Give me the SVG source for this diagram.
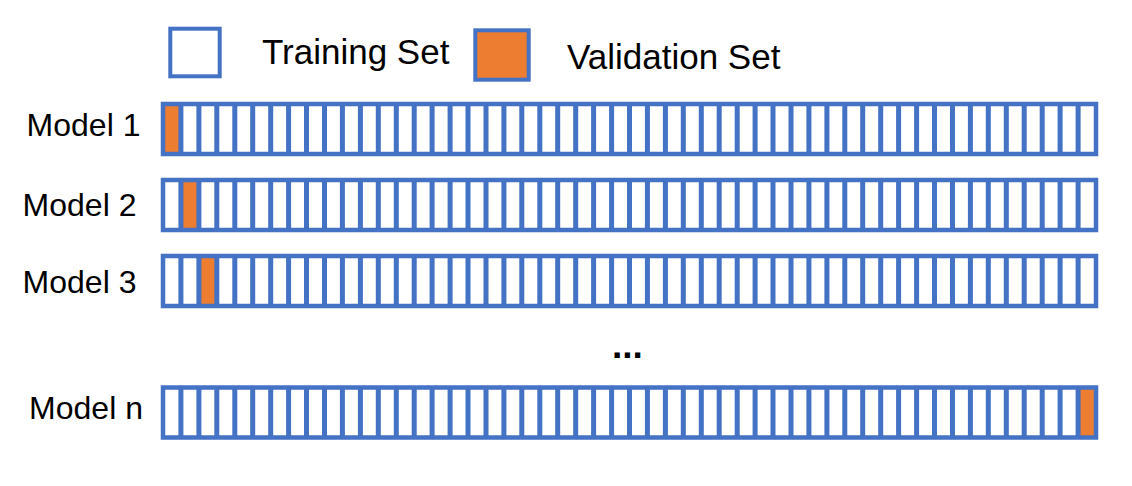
<svg xmlns="http://www.w3.org/2000/svg" xmlns:xlink="http://www.w3.org/1999/xlink" width="1132" height="486" viewBox="0 0 1132 486">
  <style>
    .lbl { font-family: "Liberation Sans", Arial, sans-serif; fill: #000000; }
    .legend { font-size: 35px; }
    .model { font-size: 32px; text-anchor: middle; }
    .frame { fill: none; stroke: #4472C4; stroke-width: 4.5; }
    .div { fill: none; stroke: #4472C4; stroke-width: 5; }
    .val { fill: #ED7D31; }
    .boxT { fill: #FFFFFF; stroke: #4472C4; stroke-width: 4; }
    .boxV { fill: #ED7D31; stroke: #4472C4; stroke-width: 4; }
  </style>
  <defs>
    <g id="bar">
      <path class="div" d="M180.9 0V50M198.9 0V50M216.8 0V50M234.8 0V50M252.7 0V50M270.7 0V50M288.6 0V50M306.5 0V50M324.5 0V50M342.4 0V50M360.4 0V50M378.3 0V50M396.3 0V50M414.2 0V50M432.1 0V50M450.1 0V50M468 0V50M486 0V50M503.9 0V50M521.8 0V50M539.8 0V50M557.7 0V50M575.7 0V50M593.6 0V50M611.6 0V50M629.5 0V50M647.4 0V50M665.4 0V50M683.3 0V50M701.3 0V50M719.2 0V50M737.2 0V50M755.1 0V50M773 0V50M791 0V50M808.9 0V50M826.9 0V50M844.8 0V50M862.7 0V50M880.7 0V50M898.6 0V50M916.6 0V50M934.5 0V50M952.5 0V50M970.4 0V50M988.3 0V50M1006.3 0V50M1024.2 0V50M1042.2 0V50M1060.1 0V50M1078.1 0V50"/>
      <rect class="frame" x="163" y="0" width="933" height="50"/>
    </g>
  </defs>
  <rect x="0" y="0" width="1132" height="486" fill="#FFFFFF"/>

  <g id="legend-training">
    <rect class="boxT" x="170.3" y="28.7" width="49.4" height="47.6"/>
    <text class="lbl legend" x="262" y="63.5">Training Set</text>
  </g>
  <g id="legend-validation">
    <rect class="boxV" x="475.3" y="30.3" width="53.4" height="49.4"/>
    <text class="lbl legend" x="567" y="68.5">Validation Set</text>
  </g>

  <g id="model-1">
    <text class="lbl model" x="83.5" y="135.5">Model 1</text>
    <rect class="val" x="163" y="104" width="17.9" height="50"/>
    <use xlink:href="#bar" href="#bar" transform="translate(0,104)"/>
  </g>
  <g id="model-2">
    <text class="lbl model" x="79.5" y="216">Model 2</text>
    <rect class="val" x="180.9" y="180" width="18" height="50"/>
    <use xlink:href="#bar" href="#bar" transform="translate(0,180)"/>
  </g>
  <g id="model-3">
    <text class="lbl model" x="79.5" y="293">Model 3</text>
    <rect class="val" x="198.9" y="256" width="17.9" height="50"/>
    <use xlink:href="#bar" href="#bar" transform="translate(0,256)"/>
  </g>
  <g id="ellipsis">
    <text class="lbl" x="612" y="357.5" style="font-size:37px;font-weight:bold">...</text>
  </g>
  <g id="model-n">
    <text class="lbl model" x="86" y="419">Model n</text>
    <rect class="val" x="1078.1" y="387.5" width="17.9" height="50"/>
    <use xlink:href="#bar" href="#bar" transform="translate(0,387.5)"/>
  </g>

  <g id="connectors"/>
</svg>
